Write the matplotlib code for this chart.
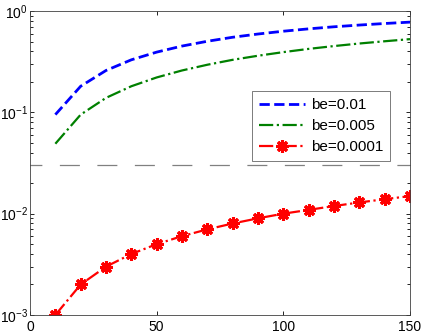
import matplotlib
matplotlib.use("Agg")
import matplotlib.pyplot as plt
from matplotlib.ticker import FixedLocator, LogLocator, NullFormatter

plt.rcParams['font.family'] = ['Liberation Sans', 'DejaVu Sans']

# data
x = [10, 20, 30, 40, 50, 60, 70, 80, 90, 100, 110, 120, 130, 140, 150]
be_001 = [0.095, 0.181, 0.259, 0.330, 0.393, 0.451, 0.503, 0.551,
          0.593, 0.632, 0.667, 0.699, 0.727, 0.753, 0.777]
be_0005 = [0.049, 0.095, 0.139, 0.181, 0.221, 0.259, 0.295, 0.330,
           0.362, 0.393, 0.423, 0.451, 0.478, 0.503, 0.528]
be_00001 = [0.0010, 0.0020, 0.0030, 0.0040, 0.0050, 0.0060, 0.0070, 0.0080,
            0.0090, 0.0100, 0.0109, 0.0119, 0.0129, 0.0139, 0.0149]
labels = ['be=0.01', 'be=0.005', 'be=0.0001']
break_level = 0.0305
xticks = [0, 50, 100, 150]

fig = plt.figure(figsize=(4.24, 3.34), dpi=100)
ax = fig.add_axes([0.0708, 0.0569, 0.8962, 0.9101])

ax.plot(x, be_001, color='#0000ff', linestyle='--', linewidth=2, label=labels[0])
ax.plot(x, be_0005, color='#008000', linestyle='-.', linewidth=1.6, label=labels[1])
ax.plot(x, be_00001, color='#ff0000', linestyle='-.', linewidth=1.6,
        marker=(8, 2, 0), markersize=9, markeredgewidth=2.2, label=labels[2])

# dashed break line between the two regions
ax.axhline(break_level, xmin=0.0, xmax=1.0, color='#808080', linewidth=0.9,
           linestyle=(6.5, (16, 14)))

ax.set_yscale('log')
ax.set_xlim(0, 150)
ax.set_ylim(1e-3, 1)
ax.xaxis.set_major_locator(FixedLocator(xticks))
ax.yaxis.set_major_locator(LogLocator(base=10, numticks=10))
ax.yaxis.set_minor_locator(LogLocator(base=10, subs=range(2, 10), numticks=10))
ax.yaxis.set_minor_formatter(NullFormatter())

ax.tick_params(which='both', direction='in', top=True, right=True,
               labelsize=10, pad=1.5)
ax.tick_params(axis='x', pad=3.5)
ax.tick_params(which='major', length=3, width=0.6)
ax.tick_params(which='minor', length=2, width=0.6)
for s in ax.spines.values():
    s.set_linewidth(0.6)
    s.set_color('#404040')

leg = ax.legend(loc='lower left', bbox_to_anchor=(0.584, 0.507),
                borderaxespad=0, fancybox=False, fontsize=11,
                handlelength=3.0, handletextpad=0.4, labelspacing=0.45,
                borderpad=0.45)
leg.get_frame().set_edgecolor('#404040')
leg.get_frame().set_linewidth(0.6)

fig.savefig('out.png', dpi=100)
